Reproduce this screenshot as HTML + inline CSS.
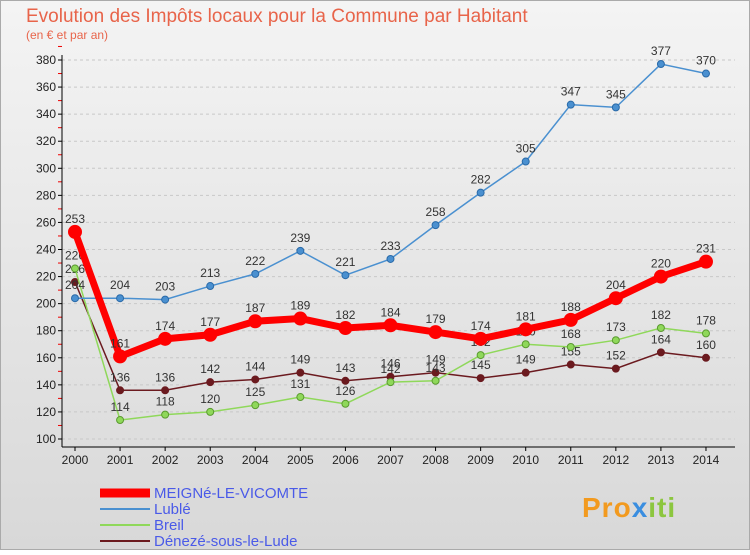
<!DOCTYPE html>
<html><head><meta charset="utf-8"><style>
body{margin:0;width:750px;height:550px;overflow:hidden;font-family:"Liberation Sans",sans-serif}
</style></head><body>
<svg width="750" height="550" xmlns="http://www.w3.org/2000/svg" id="svg">
<defs><linearGradient id="bg" x1="0" y1="0" x2="0" y2="1"><stop offset="0" stop-color="#f4f4f4"/><stop offset="1" stop-color="#d8d8d8"/></linearGradient></defs>
<rect x="0.5" y="0.5" width="749" height="549" fill="url(#bg)" stroke="#aaa"/>
<text x="26" y="22" font-size="19" fill="#e8644a">Evolution des Impôts locaux pour la Commune par Habitant</text>
<text x="26" y="39" font-size="12" fill="#e8644a">(en € et par an)</text>
<g id="grid"></g><g id="axes"></g><g id="series"></g><g id="legend"></g>
<text x="582" y="517" font-size="28" font-weight="bold" fill="#f29a1f" letter-spacing="1">Pro<tspan fill="#3a8ee0">x</tspan><tspan fill="#8cc63f">iti</tspan></text>
</svg>
<script>
const years=[2000,2001,2002,2003,2004,2005,2006,2007,2008,2009,2010,2011,2012,2013,2014];
const yTicks=[100,120,140,160,180,200,220,240,260,280,300,320,340,360,380];
const meigne=[253,161,174,177,187,189,182,184,179,174,181,188,204,220,231];
const luble=[204,204,203,213,222,239,221,233,258,282,305,347,345,377,370];
const breil=[226,114,118,120,125,131,126,142,143,162,170,168,173,182,178];
const deneze=[216,136,136,142,144,149,143,146,149,145,149,155,152,164,160];
const NS="http://www.w3.org/2000/svg";
const X=i=>75+i*45.07, Y=v=>439-(v-100)*(379/280);
function mk(t,a,p){const e=document.createElementNS(NS,t);for(const k in a)e.setAttribute(k,a[k]);p.appendChild(e);return e;}
const grid=document.getElementById('grid'),axes=document.getElementById('axes'),ser=document.getElementById('series'),leg=document.getElementById('legend');
yTicks.forEach(v=>{const l=mk('line',{x1:62,x2:735,y1:Y(v),y2:Y(v),stroke:'#c8c8c8','stroke-dasharray':'3,3'},grid);

const t=mk('text',{x:56,y:Y(v)+4,'font-size':12,'text-anchor':'end',fill:'#222'},axes);t.textContent=v;

mk('line',{x1:58,x2:62,y1:Y(v),y2:Y(v),stroke:'#000'},axes);
mk('line',{x1:58,x2:62,y1:Y(v+10),y2:Y(v+10),stroke:'#e00'},axes);});
years.forEach((y,i)=>{const t=mk('text',{x:X(i),y:464,'font-size':12,'text-anchor':'middle',fill:'#222'},axes);t.textContent=y;

mk('line',{x1:X(i),x2:X(i),y1:447,y2:451,stroke:'#000'},axes);});
mk('line',{x1:62,x2:62,y1:55,y2:447,stroke:'#000'},axes);
mk('line',{x1:62,x2:735,y1:447,y2:447,stroke:'#000'},axes);
const S=[[deneze,'#6b1a1f',1.5,3.5,'deneze'],[breil,'#8fd85a',1.5,3.5,'breil'],[luble,'#4a90d0',1.5,3.5,'luble'],[meigne,'#ff0000',7,6.5,'meigne']];
S.forEach(([d,c,w,r,n])=>{const g=mk('g',{},ser);
mk('polyline',{points:d.map((v,i)=>X(i)+','+Y(v)).join(' '),fill:'none',stroke:c,'stroke-width':w},g);
d.forEach((v,i)=>{const p=mk('circle',{cx:X(i),cy:Y(v),r:r,fill:c,stroke:n=='breil'?'#5a9a30':(n=='luble'?'#2a6aa8':c)},g);

const t=mk('text',{x:X(i),y:Y(v)-9,'font-size':12,'text-anchor':'middle',fill:'#333'},g);t.textContent=v;
});});
const L=[['MEIGNé-LE-VICOMTE','#ff0000',9],['Lublé','#4a90d0',2],['Breil','#8fd85a',2],['Dénezé-sous-le-Lude','#6b1a1f',2]];
L.forEach(([n,c,w],i)=>{const y=493+i*16;const g=mk('g',{},leg);
mk('line',{x1:100,x2:150,y1:y,y2:y,stroke:c,'stroke-width':w},g);
const t=mk('text',{x:154,y:y+5,'font-size':15,fill:'#4a5ae8'},g);t.textContent=n;});
</script></body></html>
